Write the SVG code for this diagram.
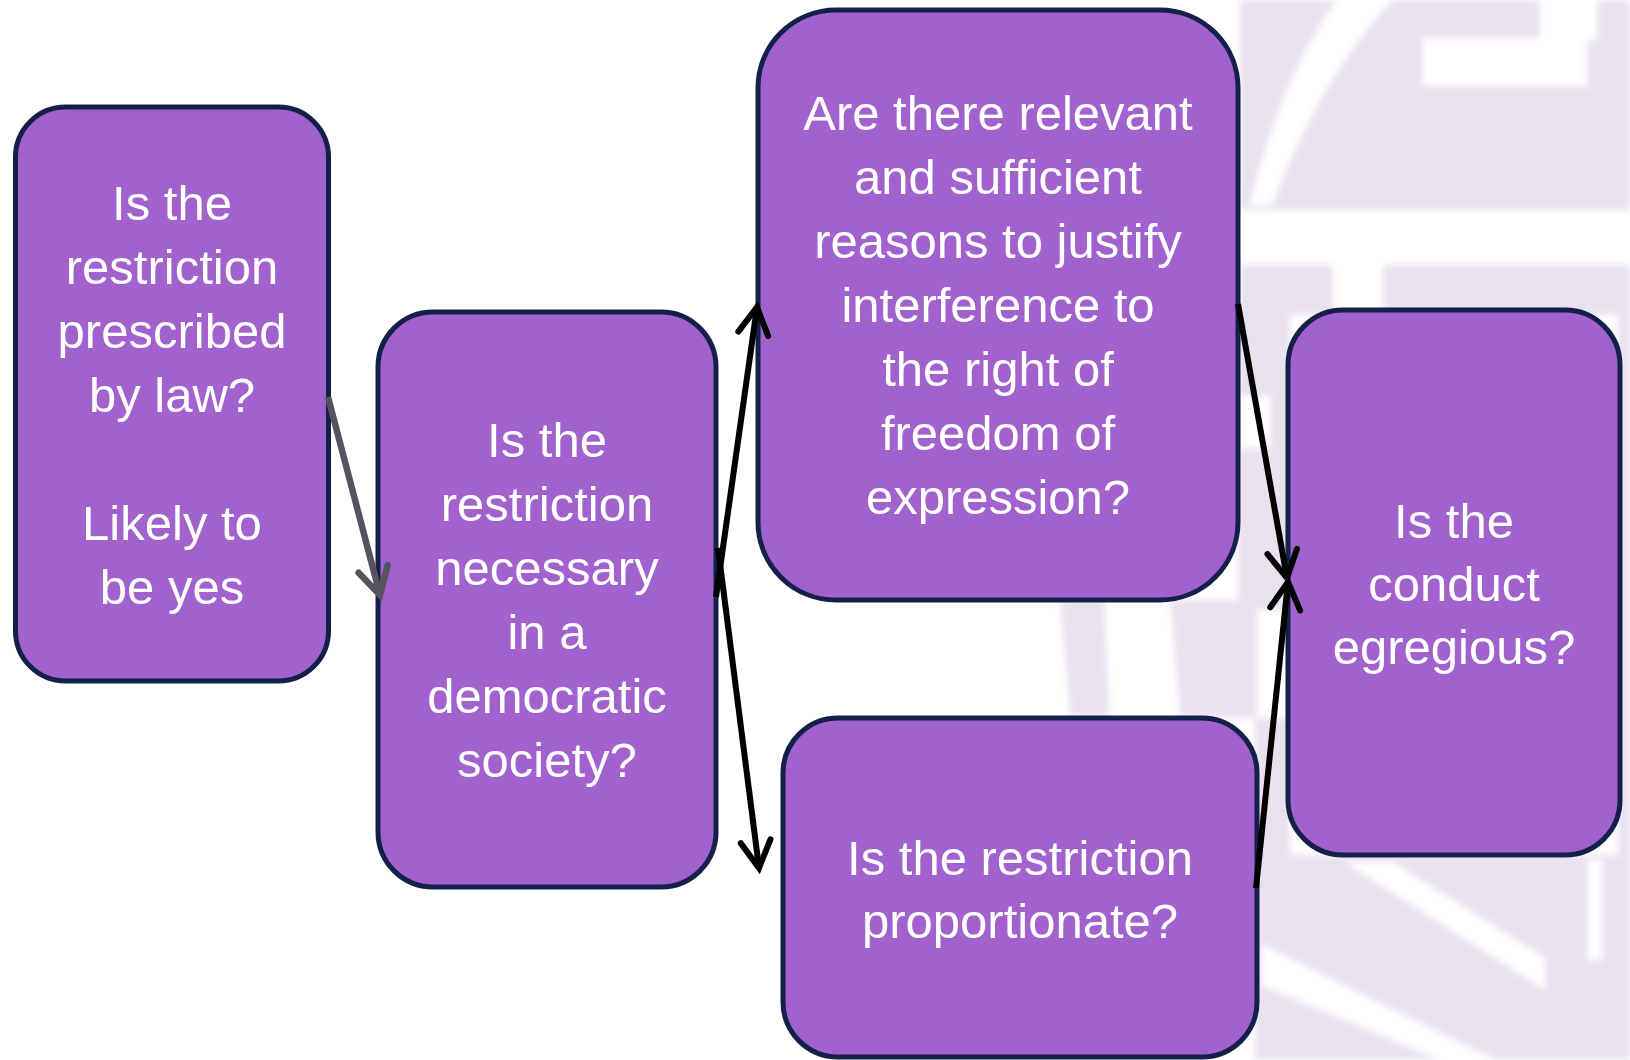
<svg xmlns="http://www.w3.org/2000/svg" width="1630" height="1060" viewBox="0 0 1630 1060">
  <defs>
    <style>
      .node rect { fill: #a162ce; stroke: #15204a; stroke-width: 5; }
      .node text { font-family: "Liberation Sans", Arial, sans-serif; font-size: 49px; fill: #ffffff; text-anchor: middle; }
      .wm { fill: #e8e2ef; }
      .wmw { fill: #ffffff; }
      .conn { fill: none; stroke: #000000; stroke-width: 6; }
      .conn.gray { stroke: #55535d; stroke-width: 6.5; }
    </style>
    <filter id="soft" x="-5%" y="-5%" width="110%" height="110%">
      <feGaussianBlur stdDeviation="3"/>
    </filter>
    <marker id="arrBlack" markerUnits="userSpaceOnUse" viewBox="-34 -22 44 44" refX="0" refY="0" markerWidth="44" markerHeight="44" orient="auto" overflow="visible">
      <path d="M-27,-15 L0,0 L-27,15" fill="none" stroke="#000000" stroke-width="6" stroke-linecap="round" stroke-linejoin="miter"/>
    </marker>
    <marker id="arrGray" markerUnits="userSpaceOnUse" viewBox="-34 -22 44 44" refX="0" refY="0" markerWidth="44" markerHeight="44" orient="auto" overflow="visible">
      <path d="M-27,-15 L0,0 L-27,15" fill="none" stroke="#55535d" stroke-width="6.5" stroke-linecap="round" stroke-linejoin="miter"/>
    </marker>
  </defs>

  <rect x="0" y="0" width="1630" height="1060" fill="#ffffff"/>

  <g id="watermark" filter="url(#soft)">
    <rect class="wm" x="1240" y="0" width="390" height="210"/>
    <path class="wmw" d="M1337,0 L1392,0 Q1318,80 1272,205 L1250,205 Q1280,80 1337,0 Z"/>
    <rect class="wmw" x="1423" y="38" width="164" height="48"/>
    <rect class="wmw" x="1540" y="0" width="57" height="40"/>
    <rect class="wm" x="1240" y="265" width="93" height="50"/>
    <rect class="wm" x="1383" y="265" width="247" height="50"/>
    <rect class="wm" x="1238" y="300" width="52" height="310"/>
    <rect class="wmw" x="1240" y="396" width="30" height="52"/>
    <rect class="wm" x="1618" y="265" width="12" height="795"/>
    <path class="wm" d="M1060,600 L1104,600 L1110,716 L1070,716 Z"/>
    <path class="wm" d="M1170,600 L1257,600 L1257,718 L1180,718 Z"/>
    <rect class="wm" x="1255" y="718" width="35" height="140"/>
    <path class="wm" d="M1255,855 L1630,855 L1630,1060 L1255,1060 Z"/>
    <path class="wmw" d="M1345,862 L1392,862 L1545,958 L1545,990 Z"/>
    <path class="wmw" d="M1262,945 L1262,985 L1440,1060 L1495,1060 Z"/>
    <rect class="wmw" x="1588" y="860" width="14" height="100"/>
  </g>

  <g id="node-prescribed" class="node">
    <rect x="15.5" y="107" width="313" height="574" rx="50" ry="50"/>
    <text x="172" y="220">Is the</text>
    <text x="172" y="284">restriction</text>
    <text x="172" y="348">prescribed</text>
    <text x="172" y="412">by law?</text>
    <text x="172" y="540">Likely to</text>
    <text x="172" y="604">be yes</text>
  </g>

  <g id="node-necessary" class="node">
    <rect x="378" y="312" width="338" height="575" rx="55" ry="55"/>
    <text x="547" y="457">Is the</text>
    <text x="547" y="521">restriction</text>
    <text x="547" y="585">necessary</text>
    <text x="547" y="649">in a</text>
    <text x="547" y="713">democratic</text>
    <text x="547" y="777">society?</text>
  </g>

  <g id="node-reasons" class="node">
    <rect x="758" y="10" width="480" height="590" rx="78" ry="78"/>
    <text x="998" y="130">Are there relevant</text>
    <text x="998" y="194">and sufficient</text>
    <text x="998" y="258">reasons to justify</text>
    <text x="998" y="322">interference to</text>
    <text x="998" y="386">the right of</text>
    <text x="998" y="450">freedom of</text>
    <text x="998" y="514">expression?</text>
  </g>

  <g id="node-proportionate" class="node">
    <rect x="783" y="718" width="474" height="339" rx="55" ry="55"/>
    <text x="1020" y="875">Is the restriction</text>
    <text x="1020" y="938">proportionate?</text>
  </g>

  <g id="node-egregious" class="node">
    <rect x="1288" y="310" width="332" height="545" rx="55" ry="55"/>
    <text x="1454" y="538">Is the</text>
    <text x="1454" y="601">conduct</text>
    <text x="1454" y="664">egregious?</text>
  </g>

  <g id="connectors">
    <line class="conn gray" x1="328" y1="397" x2="380" y2="595" marker-end="url(#arrGray)"/>
    <line class="conn" x1="716" y1="597" x2="757" y2="307" marker-end="url(#arrBlack)"/>
    <line class="conn" x1="718" y1="548" x2="759" y2="868" marker-end="url(#arrBlack)"/>
    <line class="conn" x1="1238" y1="304" x2="1287" y2="578" marker-end="url(#arrBlack)"/>
    <line class="conn" x1="1256" y1="888" x2="1288" y2="582" marker-end="url(#arrBlack)"/>
  </g>
</svg>
